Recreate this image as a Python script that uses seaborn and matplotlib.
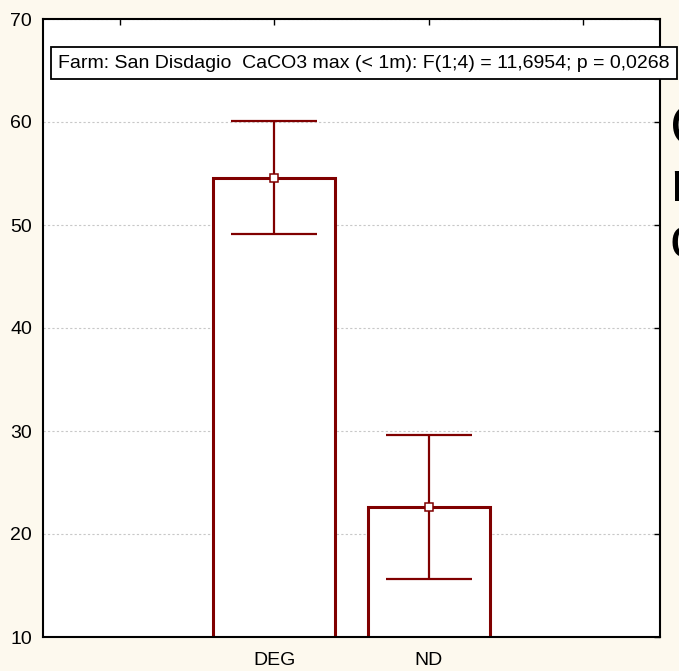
import matplotlib
matplotlib.use("Agg")
import matplotlib.pyplot as plt
import seaborn as sns
import pandas as pd
import numpy as np

categories = ["DEG", "ND"]
means = [54.6, 22.6]
errors = [5.5, 7.0]
yticks = [10, 20, 30, 40, 50, 60, 70]
title_text = "Farm: San Disdagio  CaCO3 max (< 1m): F(1;4) = 11,6954; p = 0,0268"
side_letters = ["C", "n", "c"]

BG = "#fdf9ee"
RED = "#800000"

sns.set_theme(style="white")
plt.rcParams["font.family"] = ["Liberation Sans", "DejaVu Sans"]

W, H = 679, 671
fig = plt.figure(figsize=(W / 100, H / 100), dpi=100, facecolor=BG)
ax = fig.add_axes([43 / W, 1 - 637 / H, (660 - 43) / W, (637 - 19) / H])
ax.set_facecolor("white")

df = pd.DataFrame({"group": categories, "mean": means, "err": errors})

ax.set_ylim(10, 70)
ax.set_yticks(yticks)
ax.yaxis.grid(True, color="#c8c8c8", linestyle=(0, (2, 2)), linewidth=0.8)
ax.set_axisbelow(True)

sns.barplot(data=df, x="group", y="mean", ax=ax, color="white",
            edgecolor=RED, linewidth=2.2, width=0.79, errorbar=None,
            zorder=2)
xpos = np.arange(len(categories))
ax.errorbar(xpos, df["mean"], yerr=df["err"], fmt="none", ecolor=RED,
            elinewidth=1.6, capsize=31, capthick=1.6, zorder=3)
ax.plot(xpos, df["mean"], linestyle="none", marker="s", markersize=6,
        markerfacecolor="white", markeredgecolor=RED, markeredgewidth=1.1,
        zorder=4)

ax.set_xlim(-1.5, 2.5)
ax.set_xticks([-1, 0, 1, 2])
ax.set_xticklabels(["", "DEG", "ND", ""])
ax.set_xlabel("")
ax.set_ylabel("")

for s in ax.spines.values():
    s.set_visible(True)
    s.set_color("black")
    s.set_linewidth(1.5)

ax.tick_params(axis="both", direction="in", length=4, width=1, color="black",
               top=True, right=True, labelsize=14, labelcolor="black")
ax.tick_params(axis="y", pad=8)
ax.tick_params(axis="x", pad=11)

fig.text(58 / W, 1 - 63 / H, title_text, fontsize=14, ha="left", va="center",
         color="black",
         bbox=dict(boxstyle="square,pad=0.38", facecolor="white",
                   edgecolor="black", linewidth=1.3))

baselines = [146, 201, 257]
for letter, b in zip(side_letters, baselines):
    fig.text(670 / W, 1 - b / H, letter, fontsize=42, ha="left",
             va="baseline", color="black")

fig.savefig("out.png", dpi=100, facecolor=BG)
